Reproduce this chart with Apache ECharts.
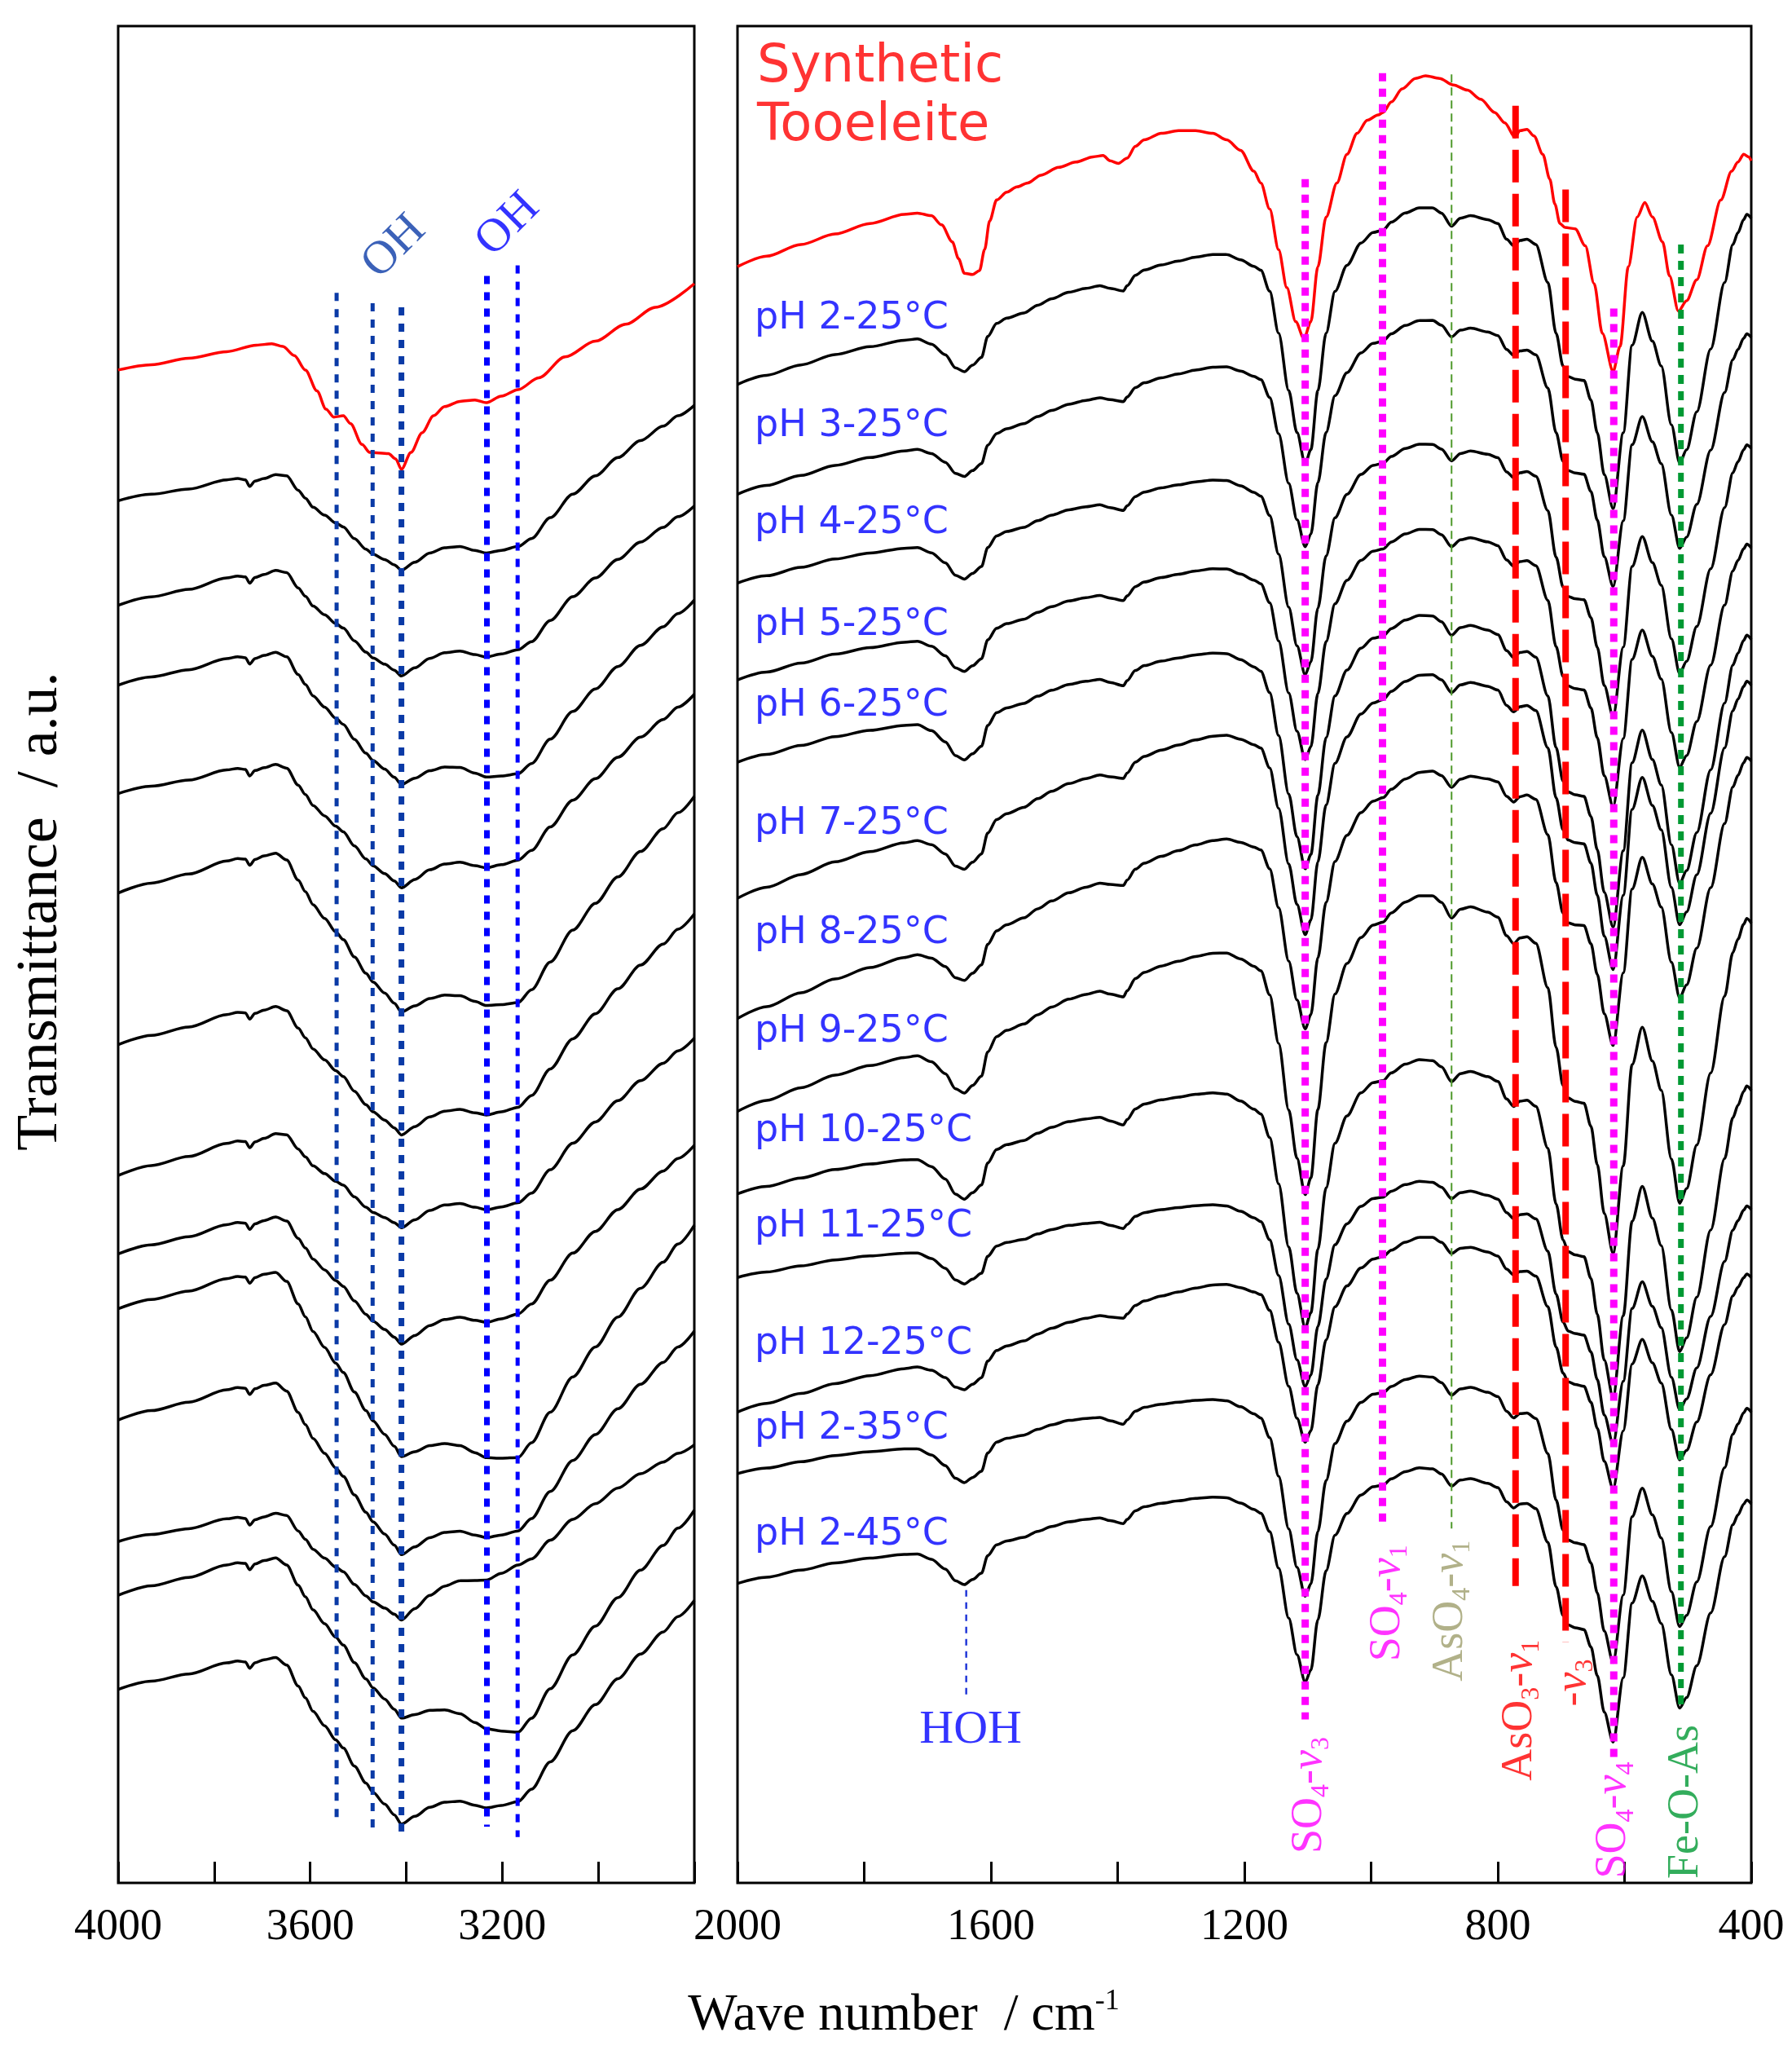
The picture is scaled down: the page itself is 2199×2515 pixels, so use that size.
<!DOCTYPE html>
<html>
<head>
<meta charset="utf-8">
<title>FTIR spectra - tooeleite</title>
<script src="https://cdn.jsdelivr.net/npm/echarts@6.0.0/dist/echarts.min.js"></script>
<style>
  html, body { margin: 0; padding: 0; background: #fff; }
  #chart { width: 2199px; height: 2515px; }
</style>
</head>
<body>
<div id="chart"></div>
<script>
// spectra, y in arbitrary transmittance units (0 = bottom of frame)
var samples = ['pH 2-25°C', 'pH 3-25°C', 'pH 4-25°C', 'pH 5-25°C', 'pH 6-25°C', 'pH 7-25°C',
  'pH 8-25°C', 'pH 9-25°C', 'pH 10-25°C', 'pH 11-25°C', 'pH 12-25°C', 'pH 2-35°C', 'pH 2-45°C'];
var sampleLabelY = [1196, 1114, 1040, 962, 900, 810, 726, 651, 575, 502, 412, 347, 266];

// 2000-400 cm-1, synthetic tooeleite
var synthR = [[2000,1236],[1954,1244],[1900,1253],[1846,1261],[1791,1269],[1737,1276],[1716,1277],[1694,1275],
  [1678,1268],[1661,1255],[1651,1242],[1642,1231],[1629,1230],[1618,1233],[1610,1249],[1602,1271],[1591,1287],
  [1575,1293],[1559,1297],[1542,1300],[1521,1306],[1493,1312],[1466,1316],[1439,1320],[1423,1321],[1412,1317],
  [1399,1315],[1385,1319],[1372,1328],[1358,1333],[1331,1338],[1304,1340],[1277,1340],[1250,1338],[1228,1333],
  [1206,1325],[1185,1309],[1174,1300],[1160,1280],[1146,1249],[1133,1220],[1119,1194],[1106,1181],[1095,1194],
  [1084,1236],[1071,1274],[1054,1300],[1038,1322],[1022,1338],[1006,1348],[989,1352],[981,1354],[968,1362],
  [951,1372],[930,1380],[914,1382],[892,1380],[870,1375],[848,1371],[827,1364],[805,1354],[789,1346],[773,1335],
  [765,1340],[754,1341],[743,1336],[729,1322],[718,1303],[710,1284],[702,1269],[694,1266],[678,1265],[662,1252],
  [648,1223],[635,1185],[618,1156],[607,1175],[594,1236],[580,1274],[568,1285],[556,1274],[540,1255],[529,1229],
  [515,1202],[502,1210],[486,1226],[469,1252],[448,1287],[431,1309],[421,1316],[412,1322],[404,1320],[400,1317]];

// 2000-400 cm-1, common profile of the precipitates (traced on pH 2-25°C)
var shapeR = [[2000,1144],[1954,1151],[1900,1159],[1846,1167],[1791,1173],[1737,1178],[1716,1179],[1694,1175],
  [1672,1167],[1656,1157],[1642,1154],[1629,1159],[1615,1165],[1605,1181],[1591,1191],[1575,1195],[1548,1199],
  [1526,1205],[1504,1210],[1477,1215],[1450,1218],[1428,1220],[1412,1218],[1391,1216],[1385,1220],[1372,1228],
  [1358,1232],[1331,1236],[1304,1239],[1277,1242],[1250,1244],[1228,1244],[1206,1240],[1185,1235],[1174,1232],
  [1160,1216],[1146,1184],[1130,1140],[1117,1108],[1104,1084],[1095,1095],[1084,1140],[1071,1184],[1057,1216],
  [1038,1236],[1016,1253],[997,1261],[981,1263],[968,1269],[946,1276],[924,1280],[903,1280],[889,1276],[873,1266],
  [859,1272],[843,1274],[816,1271],[800,1268],[786,1256],[775,1251],[765,1255],[754,1256],[740,1252],[721,1223],
  [708,1184],[697,1159],[689,1151],[678,1149],[664,1148],[653,1133],[643,1108],[632,1076],[618,1050],[602,1108],
  [588,1175],[572,1200],[556,1178],[542,1159],[526,1114],[513,1085],[502,1095],[486,1124],[464,1172],[442,1223],
  [429,1252],[421,1261],[412,1271],[407,1275],[400,1272]];
// level of each spectrum at 2000, 910 and 400 cm-1, and its band depth relative to the profile
var anchorsR = [2000, 910, 400];
var levelsR = [[1146,1281,1273],[1062,1195,1182],[994,1100,1097],[920,1035,1021],[857,969,951],[753,924,916],
  [661,850,858],[590,755,734],[527,629,606],[463,536,515],[360,494,463],[313,387,360],[229,317,290]];
var depthR = [1.0, 0.87, 0.915, 0.905, 1.01, 0.98, 0.95, 1.16, 1.085, 0.835, 0.775, 0.9, 0.86];

// 4000-2800 cm-1
var synthL = [[4000,1157],[3931,1161],[3853,1166],[3774,1171],[3712,1176],[3680,1177],[3657,1175],[3633,1168],
  [3610,1157],[3586,1141],[3567,1127],[3551,1121],[3531,1122],[3516,1116],[3492,1100],[3476,1094],[3437,1093],
  [3422,1089],[3410,1081],[3390,1094],[3367,1109],[3343,1122],[3320,1129],[3288,1133],[3257,1134],[3233,1132],
  [3202,1137],[3167,1142],[3124,1151],[3069,1167],[3006,1179],[2943,1192],[2881,1205],[2800,1223]];
var shapeL = [[4000,1057],[3931,1062],[3853,1066],[3774,1073],[3751,1074],[3735,1073],[3726,1068],[3715,1072],
  [3696,1074],[3672,1077],[3649,1076],[3625,1065],[3610,1059],[3594,1052],[3570,1046],[3547,1040],[3531,1037],
  [3508,1028],[3484,1020],[3469,1016],[3445,1012],[3425,1008],[3410,1004],[3382,1010],[3351,1017],[3320,1021],
  [3288,1022],[3257,1019],[3233,1017],[3202,1019],[3167,1022],[3139,1028],[3100,1044],[3053,1062],[3006,1076],
  [2959,1090],[2912,1103],[2865,1114],[2834,1122],[2800,1130]];
var anchorsL = [4000, 3680, 3410, 3168, 2800];
var levelsL = [[1057,1076,1004,1022,1130],[977,1003,923,943,1053],[916,941,840,848,981],[833,855,761,782,909],
  [757,788,666,673,831],[641,670,572,593,741],[541,572,501,520,646],[481,509,412,435,564],[439,468,326,325,503],
  [354,383,251,269,422],[261,282,201,243,335],[220,249,126,115,285],[148,173,45,62,216]];

// band markers
var bandWnR = [1639, 1104, 982, 873, 772, 693, 617, 511];
var bandTopR = [224, 1303, 1384, 1383, 1359, 1295, 1204, 1253];
var bandBottomR = [140, 125, 272, 271, 227, 184, 96, 136];
var bandKindR = ['hoh', 'so4', 'so4', 'aso4', 'aso3', 'aso3', 'so4', 'feo'];
var bandWnL = [3545, 3470, 3410, 3232, 3168];
var bandTopL = [1216, 1208, 1205, 1229, 1237];
var bandBottomL = [47, 37, 35, 43, 35];
var bandKindL = ['oh1', 'oh1', 'oh1w', 'oh2w', 'oh2'];

var tagWnR = [1097, 974, 875, 766, 681, 617, 503];
var tagYR = [67, 214, 208, 132, 153, 48, 62];
var tagTextR = ['{n|SO}{s|4}{n|-}{i|v}{s|3}', '{n|SO}{s|4}{n|-}{i|v}{s|1}', '{n|AsO}{s|4}{n|-}{i|v}{s|1}',
  '{n|AsO}{s|3}{n|-}{i|v}{s|1}', '{n|-}{i|v}{s|3}', '{n|SO}{s|4}{n|-}{i|v}{s|4}', '{n|Fe-O-As}'];
var tagKindR = ['so4', 'so4', 'aso4', 'aso3', 'aso3', 'so4', 'feo'];

var styles = {
  hoh:  { color: '#2238d8', width: 2.5, dash: [8, 7], text: '#0000ff' },
  so4:  { color: '#ff00ff', width: 9, dash: [10, 9], text: '#ff00ff' },
  aso4: { color: '#4f9a2c', width: 2, dash: [10, 6], text: '#9e9e6c' },
  aso3: { color: '#ff0000', width: 8, dash: [40, 14], text: '#ff0000' },
  feo:  { color: '#009933', width: 7, dash: [11, 9], text: '#009933' },
  oh1:  { color: '#0a3aa6', width: 5, dash: [10, 10] },
  oh1w: { color: '#0a3aa6', width: 7, dash: [10, 10] },
  oh2:  { color: '#0000ff', width: 5, dash: [10, 10] },
  oh2w: { color: '#0000ff', width: 7, dash: [10, 10] }
};

function at(pts, w) {
  for (var i = 0; i < pts.length - 1; i++) {
    var w0 = pts[i][0], v0 = pts[i][1], w1 = pts[i + 1][0], v1 = pts[i + 1][1];
    if ((w <= w0 && w >= w1) || (w >= w0 && w <= w1)) {
      if (w0 === w1) return v0;
      return v0 + (v1 - v0) * (w - w0) / (w1 - w0);
    }
  }
  return pts[pts.length - 1][1];
}
// shift the traced profile onto the levels read for one spectrum
function offsetCurve(shape, anchors, levels, k) {
  var shapeLv = anchors.map(function (a) { return [a, at(shape, a)]; });
  var lv = anchors.map(function (a, i) { return [a, levels[i]]; });
  return shape.map(function (p) {
    return [p[0], at(lv, p[0]) + k * (p[1] - at(shapeLv, p[0]))];
  });
}

var serif = 'Liberation Serif';
function rich(color) {
  return {
    n: { fontFamily: serif, fontSize: 54, color: color, lineHeight: 62 },
    i: { fontFamily: serif, fontSize: 54, fontStyle: 'italic', color: color, lineHeight: 62 },
    s: { fontFamily: serif, fontSize: 32, color: color, verticalAlign: 'bottom' }
  };
}

var chart = echarts.init(document.getElementById('chart'), null, { renderer: 'canvas' });
var series = [];

function curve(data, grid, color) {
  series.push({
    type: 'line', xAxisIndex: grid, yAxisIndex: grid, data: data,
    showSymbol: false, smooth: 0.3, smoothMonotone: 'x', silent: true,
    lineStyle: { color: color, width: 3.5 }, z: 2
  });
}
function marker(wn, top, bottom, kind, grid) {
  var st = styles[kind];
  series.push({
    type: 'line', xAxisIndex: grid, yAxisIndex: grid, data: [[wn, top], [wn, bottom]],
    showSymbol: false, silent: true, z: 3,
    lineStyle: { color: st.color, width: st.width, type: st.dash, cap: 'butt' }
  });
}

curve(synthL, 0, '#ff0000');
curve(synthR, 1, '#ff0000');
for (var i = 0; i < samples.length; i++) {
  curve(offsetCurve(shapeL, anchorsL, levelsL[i], 1), 0, '#000');
  curve(offsetCurve(shapeR, anchorsR, levelsR[i], depthR[i]), 1, '#000');
}
bandWnL.forEach(function (w, i) { marker(w, bandTopL[i], bandBottomL[i], bandKindL[i], 0); });
bandWnR.forEach(function (w, i) { marker(w, bandTopR[i], bandBottomR[i], bandKindR[i], 1); });

// text labels anchored in data space
var textR = [];
samples.forEach(function (s, i) {
  textR.push({ value: [1973, sampleLabelY[i]], label: {
    formatter: s, align: 'left', fontFamily: 'DejaVu Sans', fontSize: 46, color: '#0000ff' } });
});
textR.push({ value: [1969, 1388], label: { formatter: 'Synthetic', align: 'left',
  fontFamily: 'DejaVu Sans', fontSize: 64, color: '#ff0000' } });
textR.push({ value: [1969, 1343], label: { formatter: 'Tooeleite', align: 'left',
  fontFamily: 'DejaVu Sans', fontSize: 64, color: '#ff0000' } });
textR.push({ value: [1632, 117], label: { formatter: 'HOH', align: 'center',
  fontFamily: serif, fontSize: 58, color: '#0000ff' } });
tagWnR.forEach(function (w, i) {
  var c = styles[tagKindR[i]].text;
  textR.push({ value: [w, tagYR[i]], label: { formatter: tagTextR[i], rotate: 90, align: 'center',
    rich: rich(c) } });
});
var textL = [
  { value: [3425, 1251], label: { formatter: 'OH', rotate: 45, align: 'center',
    fontFamily: serif, fontSize: 58, color: '#0a3aa6' } },
  { value: [3188, 1268], label: { formatter: 'OH', rotate: 45, align: 'center',
    fontFamily: serif, fontSize: 58, color: '#0000ff' } }
];
[textL, textR].forEach(function (d, g) {
  series.push({
    type: 'scatter', xAxisIndex: g, yAxisIndex: g, data: d, symbolSize: 0, silent: true, z: 5,
    label: { show: true, position: [0, 0], verticalAlign: 'middle' }
  });
});

function xAxis(grid, min, max, every) {
  return {
    type: 'value', gridIndex: grid, min: min, max: max, interval: 200, inverse: true,
    axisLine: { show: false },
    axisTick: { show: true, inside: true, length: 26, lineStyle: { color: '#000', width: 3 } },
    splitLine: { show: false },
    axisLabel: {
      show: true, margin: 28, fontFamily: serif, fontSize: 54, color: '#000',
      showMinLabel: true, showMaxLabel: true,
      formatter: function (v) {
        if (grid === 0 && v === 2800) return '';
        return (v % every === 0) ? String(v) : '';
      }
    }
  };
}
function yAxis(grid) {
  return { type: 'value', gridIndex: grid, min: 0, max: 1420, show: false };
}

chart.setOption({
  animation: false,
  backgroundColor: '#fff',
  grid: [
    { left: 145, top: 32, width: 707, height: 2278, show: true, borderColor: '#000', borderWidth: 3 },
    { left: 905, top: 32, width: 1244, height: 2278, show: true, borderColor: '#000', borderWidth: 3 }
  ],
  xAxis: [xAxis(0, 2800, 4000, 400), xAxis(1, 400, 2000, 400)],
  yAxis: [yAxis(0), yAxis(1)],
  graphic: [
    { type: 'text', x: 1109, y: 2473, style: {
      text: '{a|Wave number  / cm}{b|-1}', align: 'center', verticalAlign: 'middle',
      rich: { a: { fontFamily: serif, fontSize: 64, color: '#000', lineHeight: 70 },
              b: { fontFamily: serif, fontSize: 36, color: '#000', verticalAlign: 'top' } } } },
    { type: 'text', x: 50, y: 1118, rotation: Math.PI / 2, style: {
      text: 'Transmittance  / a.u.', align: 'center', verticalAlign: 'middle',
      fontFamily: serif, fontSize: 72, fill: '#000' } }
  ],
  series: series
});
</script>
</body>
</html>
